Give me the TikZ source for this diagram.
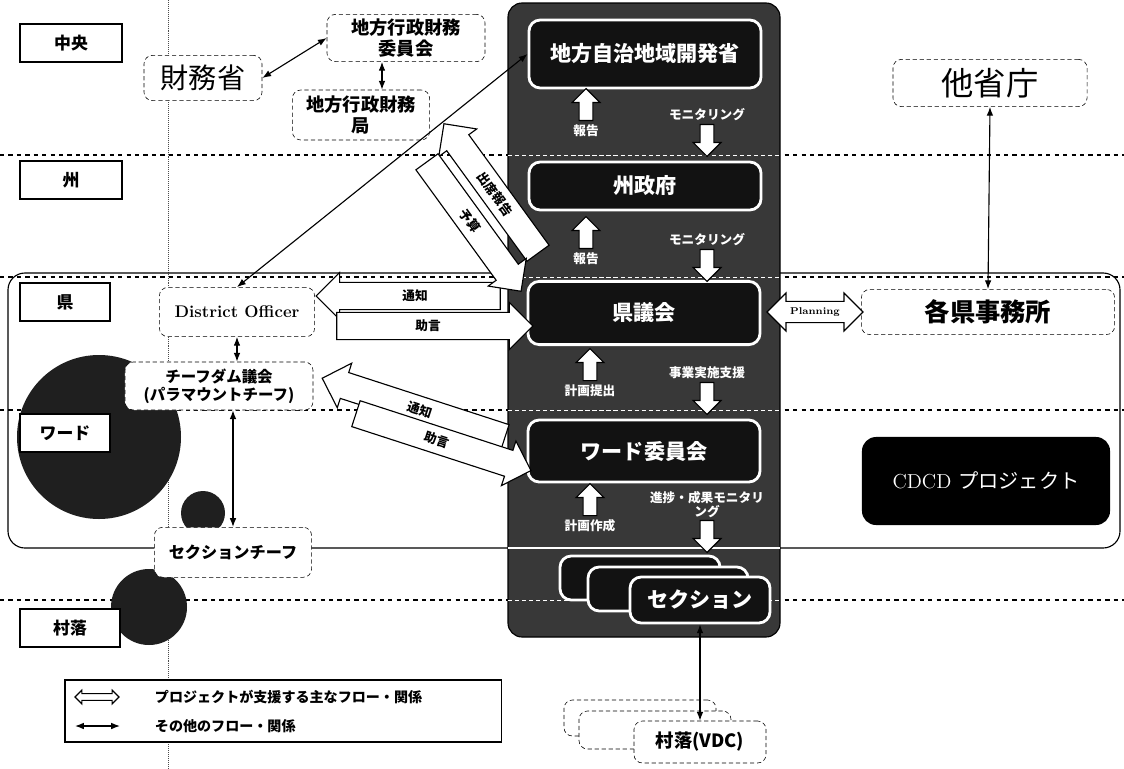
\documentclass[tikz,border=0pt]{standalone}
\usepackage{fontspec}
\newfontfamily\jp{Noto Sans CJK JP}
\usetikzlibrary{shapes.arrows,arrows.meta,positioning,calc}
\definecolor{paneldark}{gray}{0.22}
\definecolor{boxdark}{gray}{0.07}
\definecolor{blobdark}{gray}{0.12}

\begin{document}
\begin{tikzpicture}[x=0.025cm, y=-0.025cm,
    levelbox/.style={rectangle, draw, line width=1.2pt, fill=white,
        minimum width=2.55cm, minimum height=0.95cm,
        font=\jp\bfseries\fontsize{12}{14}\selectfont},
    orgbox/.style={rectangle, draw, densely dashed, rounded corners=6pt,
        fill=white, inner sep=2pt, align=center},
    govbox/.style={rectangle, draw=white, line width=2pt, rounded corners=8pt,
        fill=boxdark, text=white, minimum width=5.8cm,
        font=\jp\bfseries\fontsize{15}{17}\selectfont},
    flow/.style={single arrow, draw, thick, fill=white, single arrow head extend=7pt,
        inner xsep=2pt, inner ysep=5pt, font=\jp\bfseries\fontsize{9}{10}\selectfont},
    updown/.style={single arrow, draw, thick, fill=white, single arrow head extend=5pt,
        minimum height=0.8cm, inner sep=4.5pt},
    tag/.style={text=white, inner sep=1pt, font=\jp\bfseries\fontsize{9}{10}\selectfont},
    conn/.style={{Latex[length=2.2mm]}-{Latex[length=2.2mm]}, thick},
    blob/.style={fill=blobdark}
]
    \useasboundingbox (0,0) rectangle (1124,769);

    % level lines
    \foreach \ly in {155,277,410,600}
        \draw[dashed, thick] (0,\ly) -- (1124,\ly);
    \draw[densely dotted, black!70] (168,0) -- (168,769);

    % district / ward frame
    \draw[thick, rounded corners=12pt] (8,273) rectangle (1120,548);

    % dark blobs of the scan
    \fill[blob] (99,437) circle[radius=82];
    \fill[blob] (203,513) circle[radius=22];
    \fill[blob] (149,607) circle[radius=38];

    % project panel
    \draw[thick, fill=paneldark, rounded corners=10pt] (508,3) rectangle (780,637);
    \foreach \ly in {155,277,410,600}
        \draw[white, densely dashed] (508,\ly) -- (780,\ly);
    \draw[white, thick] (508,548) -- (780,548);

    % levels
    \node[levelbox] (lvC) at (71,43) {中央};
    \node[levelbox] (lvP) at (71,180) {州};
    \node[levelbox, minimum width=2.25cm] (lvD) at (65,302) {県};
    \node[levelbox, minimum width=2.25cm] (lvW) at (65,433) {ワード};
    \node[levelbox, minimum width=2.5cm] (lvV) at (70,628) {村落};

    % central level
    \node[orgbox, minimum width=2.95cm, minimum height=1.13cm,
        font=\jp\fontsize{20}{22}\selectfont] (zaimu) at (203,78) {財務省};
    \node[orgbox, minimum width=3.95cm, minimum height=1.18cm,
        font=\jp\bfseries\fontsize{13}{15}\selectfont] (iinkai) at (406,38) {地方行政財務\\委員会};
    \node[orgbox, minimum width=3.43cm, minimum height=1.25cm,
        font=\jp\bfseries\fontsize{13}{15}\selectfont] (kyoku) at (361,115) {地方行政財務\\局};
    \node[orgbox, minimum width=4.85cm, minimum height=1.18cm,
        font=\jp\fontsize{23}{25}\selectfont] (tasho) at (990,83) {他省庁};

    % government chain inside the panel
    \node[govbox, minimum height=1.7cm] (mlg) at (645,54) {地方自治地域開発省};
    \node[govbox, minimum height=1.2cm] (prov) at (645,186) {州政府};
    \node[govbox, minimum height=1.58cm] (dcouncil) at (644,313) {県議会};
    \node[govbox, minimum height=1.55cm] (wcomm) at (644,451) {ワード委員会};

    \node[updown, shape border rotate=90] (up1) at (586,108) {};
    \node[tag, below=1pt of up1] {報告};
    \node[updown, shape border rotate=270] (dn1) at (707,137) {};
    \node[tag, above=1pt of dn1] {モニタリング};

    \node[updown, shape border rotate=90] (up2) at (586,236) {};
    \node[tag, below=1pt of up2] {報告};
    \node[updown, shape border rotate=270] (dn2) at (707,262) {};
    \node[tag, above=1pt of dn2] {モニタリング};

    \node[updown, shape border rotate=90] (up3) at (590,368) {};
    \node[tag, below=1pt of up3] {計画提出};
    \node[updown, shape border rotate=270] (dn3) at (707,395) {};
    \node[tag, above=1pt of dn3] {事業実施支援};

    \node[updown, shape border rotate=90] (up4) at (590,503) {};
    \node[tag, below=1pt of up4] {計画作成};
    \node[updown, shape border rotate=270] (dn4) at (707,533) {};
    \node[tag, align=center, above=0pt of dn4] {進捗・成果モニタリ\\ング};

    % sections
    \node[govbox, minimum width=4cm, minimum height=1.1cm] (sec1) at (640,578) {};
    \node[govbox, minimum width=4cm, minimum height=1.1cm] (sec2) at (668,589) {};
    \node[govbox, minimum width=3.5cm, minimum height=1.15cm] (sec3) at (700,600) {セクション};

    % villages
    \node[orgbox, minimum width=3.8cm, minimum height=0.9cm] (vdc1) at (640,718) {};
    \node[orgbox, minimum width=3.8cm, minimum height=0.95cm] (vdc2) at (655,730) {};
    \node[orgbox, minimum width=3.3cm, minimum height=1.05cm,
        font=\jp\bfseries\fontsize{13}{15}\selectfont] (vdc3) at (700,742) {村落(VDC)};

    % district and ward level
    \node[orgbox, minimum width=3.88cm, minimum height=1.23cm,
        font=\large\bfseries] (dofficer) at (237,312) {District Officer};
    \node[orgbox, minimum width=4.7cm, minimum height=1.2cm,
        font=\jp\bfseries\fontsize{11}{13}\selectfont] (chiefdom) at (219,386) {チーフダム議会\\(パラマウントチーフ)};
    \node[orgbox, minimum width=3.93cm, minimum height=1.25cm, anchor=north,
        font=\jp\bfseries\fontsize{11.5}{13}\selectfont] (secchief) at (233,527) {セクションチーフ};
    \node[orgbox, minimum width=6.33cm, minimum height=1.13cm,
        font=\jp\bfseries\fontsize{18}{20}\selectfont] (kakuken) at (988,312) {各県事務所};
    \node[rectangle, fill=black, rounded corners=10pt, minimum width=6.2cm,
        minimum height=2.2cm, text=white, font=\Large] (cdcd) at (986,481) {CDCD {\jp プロジェクト}};

    % project-supported flows
    \node[flow, shape border rotate=180, minimum height=4.6cm] (tsuchiD) at (415,296) {通知};
    \node[flow, minimum height=4.9cm] (jogenD) at (428,326) {助言};
    \node[flow, shape border rotate=180, minimum height=4.8cm, rotate=-18] (tsuchiW) at (420,410) {通知};
    \node[flow, minimum height=4.6cm, rotate=-18] (jogenW) at (437,440) {助言};
    \node[flow, shape border rotate=180, minimum height=4cm, rotate=-54] (shusseki) at (495,194) {出席報告};
    \node[flow, minimum height=4cm, rotate=-54] (yosan) at (470,221) {予算};
    \node[double arrow, draw, thick, fill=white, minimum height=2.4cm, inner xsep=1pt,
        inner ysep=4pt, double arrow head extend=6pt, font=\bfseries\scriptsize] (planning) at (815,312) {Planning};

    % other flows
    \draw[conn] (zaimu.east) -- (iinkai.west);
    \draw[conn] (iinkai.south -| 382,0) -- (kyoku.north -| 382,0);
    \draw[conn] (dofficer.north) -- (mlg.west);
    \draw[conn] (dofficer.south) -- (dofficer.south |- chiefdom.north);
    \draw[conn] (chiefdom.south -| secchief.north) -- (secchief.north);
    \draw[conn] (tasho.south) -- (kakuken.north);
    \draw[conn] (sec3.south) -- (vdc3.north);

    % legend
    \node[draw, thick, fill=white, minimum width=10.9cm, minimum height=1.55cm] (legend) at (283,711) {};
    \node[double arrow, draw, thick, fill=white, minimum height=1.1cm, inner sep=2pt,
        double arrow head extend=2.5pt] (lgmain) at (97,697) {};
    \node[anchor=west, font=\jp\bfseries\fontsize{10}{12}\selectfont] (lgmaintxt) at (150,697) {プロジェクトが支援する主なフロー・関係};
    \coordinate (lgL) at (75,726);
    \coordinate (lgR) at (120,726);
    \draw[conn] (lgL) -- (lgR);
    \node[anchor=west, font=\jp\bfseries\fontsize{10}{12}\selectfont] (lgothertxt) at (150,726) {その他のフロー・関係};
\end{tikzpicture}
\end{document}
